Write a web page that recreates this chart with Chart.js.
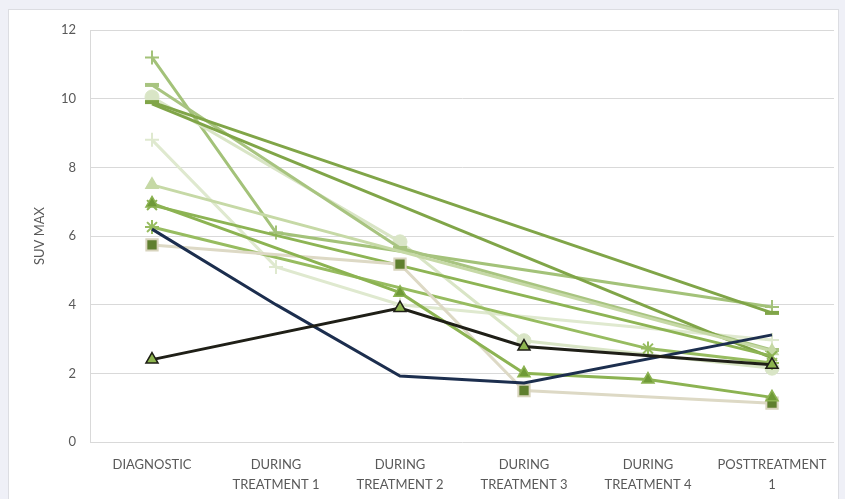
<!DOCTYPE html>
<html>
<head>
<meta charset="utf-8">
<title>SUV MAX</title>
<script src="https://cdn.jsdelivr.net/npm/chart.js@4.4.0/dist/chart.umd.min.js"></script>
<style>
  body { margin: 0; background: #eff0f7; }
  #card { position: absolute; left: 8px; top: 9px; width: 829px; height: 495px; background: #fff; border: 1px solid #dcdde2; }
  #wrap { position: absolute; left: 0; top: 0; width: 845px; height: 499px; }
</style>
</head>
<body>
<div id="card"></div>
<div id="wrap"><canvas id="myChart" width="845" height="499"></canvas></div>

<script>
// categories (x axis)
var categories = [
  'DIAGNOSTIC',
  ['DURING', 'TREATMENT 1'],
  ['DURING', 'TREATMENT 2'],
  ['DURING', 'TREATMENT 3'],
  ['DURING', 'TREATMENT 4'],
  ['POSTTREATMENT', '1']
];
var yTicks = [0, 2, 4, 6, 8, 10, 12];

// one array per patient, null = not measured
var navyLine    = [6.2, 4.0, 1.92, 1.72, null, 3.12];
var blackTri    = [2.4, null, 3.9, 2.78, null, 2.25];
var greenTri    = [6.95, null, 4.35, 2.0, 1.82, 1.3];
var beigeSquare = [5.74, null, 5.18, 1.5, null, 1.13];
var plusMid     = [11.2, 6.1, null, null, null, 3.93];
var plusLight   = [8.8, 5.1, 4.0, null, null, 2.97];
var circleLight = [10.05, null, 5.83, 2.95, null, 2.15];
var dashMid     = [10.4, null, 5.65, null, null, 2.68];
var dashDark    = [9.9, null, null, null, null, 3.76];
var darkLine    = [9.85, null, null, null, null, 2.45];
var triLight    = [7.49, null, null, null, null, 2.65];
var xMid        = [6.9, null, null, null, null, 2.5];
var starMid     = [6.26, null, null, null, 2.72, 2.3];

function series(data, color, style, fill, border, bw, r) {
  return {
    data: data,
    borderColor: color,
    borderWidth: 3,
    pointStyle: style || false,
    pointRadius: style ? (r || 7) : 0,
    pointBackgroundColor: fill || color,
    pointBorderColor: border || color,
    pointBorderWidth: bw || 1.5,
    spanGaps: true,
    tension: 0
  };
}

var ctx = document.getElementById('myChart').getContext('2d');
var myChart = new Chart(ctx, {
  type: 'line',
  data: {
    labels: categories,
    datasets: [
      series(blackTri, '#1f1f17', 'triangle', '#8db54e', '#1f1f17', 1.5),
      series(navyLine, '#1c2e4e'),
      series(greenTri, '#8cb352', 'triangle', '#6f9a37', '#8cb352', 1.5),
      series(beigeSquare, '#ddd9c5', 'rect', '#5f7f2f', '#d8d4bd', 2, 8),
      series(starMid, '#97bc60', 'star', '#97bc60', '#97bc60', 2),
      series(xMid, '#8db454', 'crossRot', '#8db454', '#8db454', 2),
      series(triLight, '#c6d9a6', 'triangle', '#c6d9a6', '#c6d9a6', 1.5),
      series(darkLine, '#80a548'),
      series(dashDark, '#80a548', 'line', '#80a548', '#80a548', 4),
      series(dashMid, '#a8c480', 'line', '#a8c480', '#a8c480', 4),
      series(circleLight, '#d9e5c6', 'circle', '#d9e5c6', '#d9e5c6', 1),
      series(plusLight, '#dfe9cf', 'cross', '#dfe9cf', '#dfe9cf', 2),
      series(plusMid, '#a3c279', 'cross', '#a3c279', '#a3c279', 2)
    ]
  },
  options: {
    responsive: false,
    devicePixelRatio: 1,
    animation: false,
    layout: { padding: { top: 30, right: 8, left: 0, bottom: 0 } },
    plugins: { legend: { display: false }, tooltip: { enabled: false } },
    scales: {
      x: {
        offset: true,
        grid: { display: false },
        border: { display: false },
        ticks: {
          color: '#595959',
          font: { family: 'Lato', size: 13, lineHeight: 1.6 },
          padding: 4,
          maxRotation: 0,
          autoSkip: false
        },
        afterFit: function (scale) { scale.height = 57; }
      },
      y: {
        min: 0,
        max: 12,
        afterBuildTicks: function (scale) {
          scale.ticks = yTicks.map(function (v) { return { value: v }; });
        },
        grid: { color: '#d9d9d9', lineWidth: 1, drawTicks: false },
        border: { display: true, color: '#d9d9d9' },
        ticks: {
          color: '#595959',
          font: { family: 'Lato', size: 13 },
          padding: 14
        },
        title: {
          display: true,
          text: 'SUV MAX',
          color: '#595959',
          font: { family: 'Lato', size: 13 },
          padding: { top: 32, bottom: 0 }
        },
        afterFit: function (scale) { scale.width = 90; }
      }
    }
  }
});
</script>
</body>
</html>
